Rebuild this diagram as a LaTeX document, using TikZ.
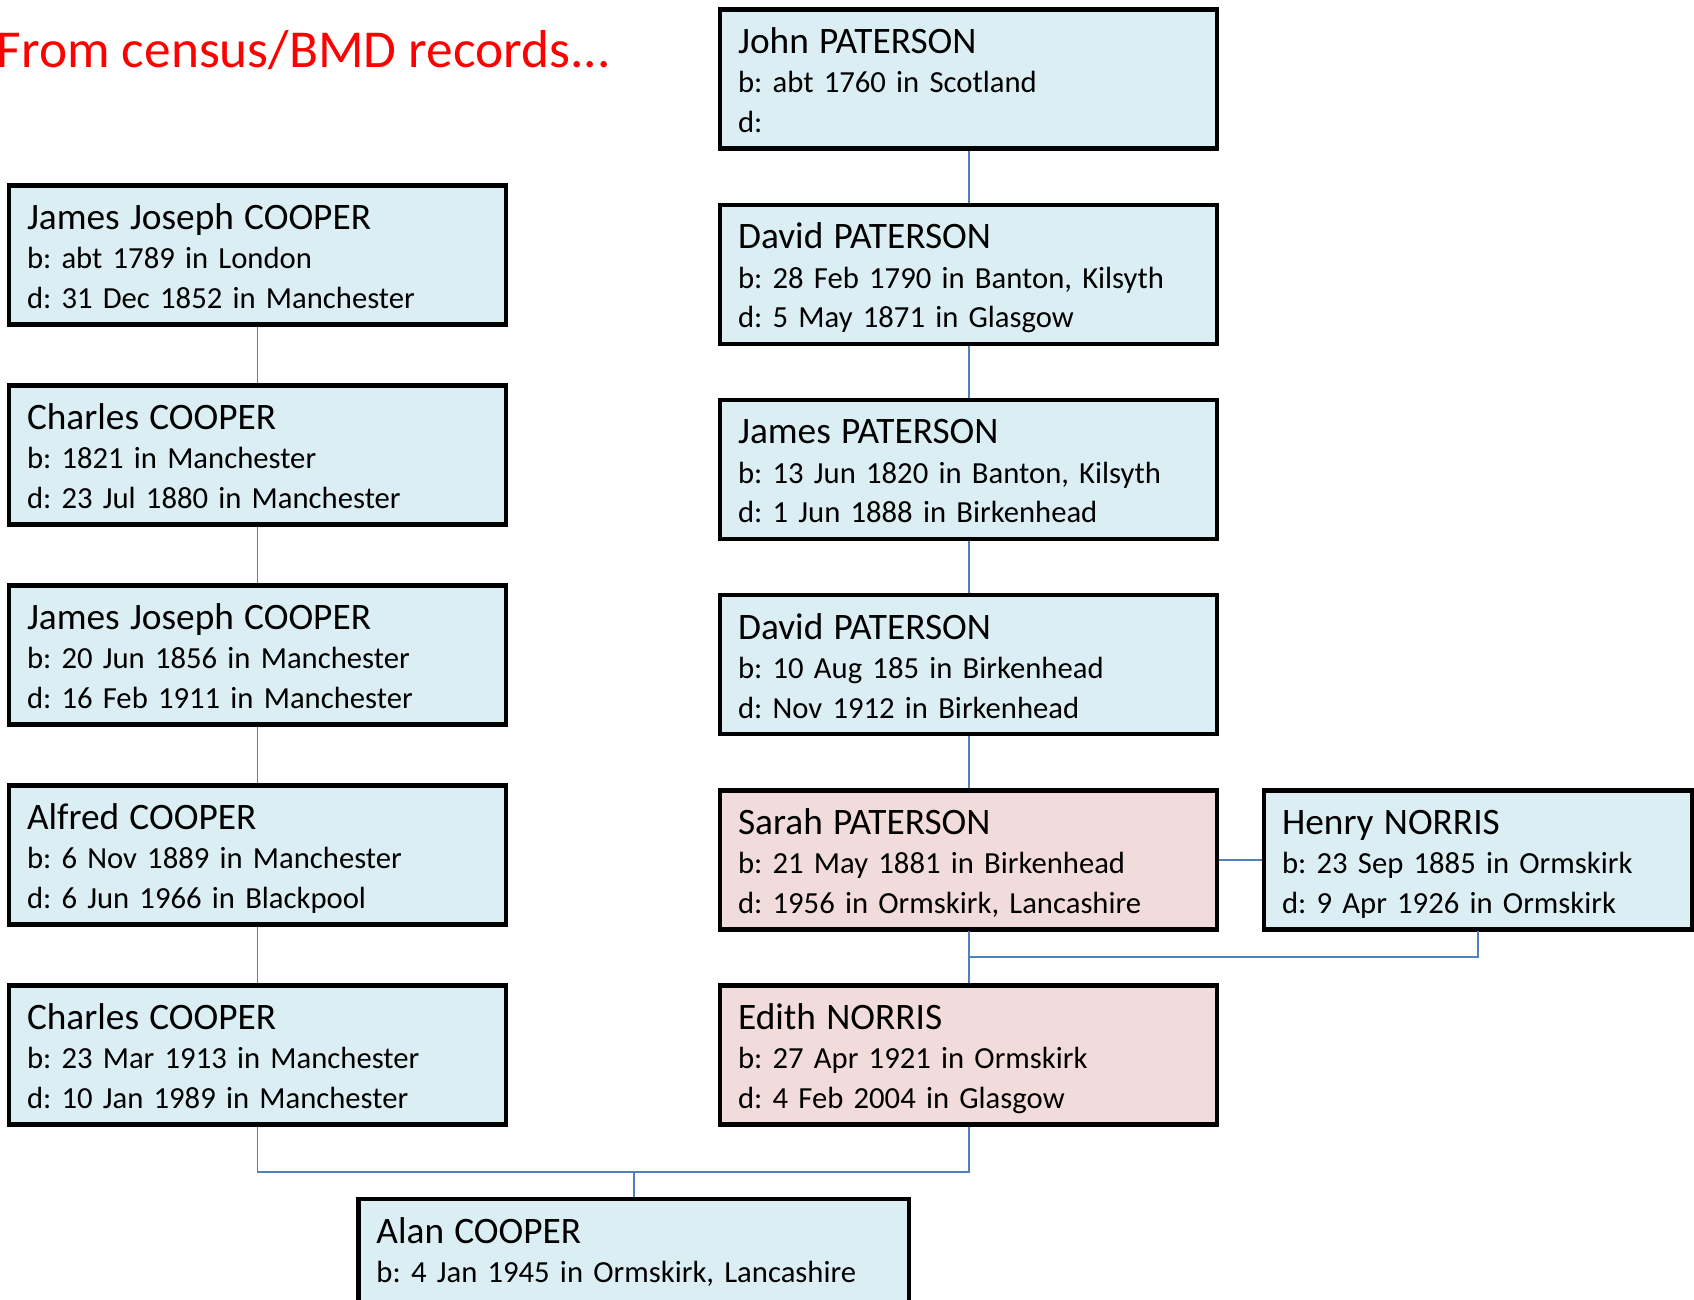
\documentclass[tikz,border=0pt]{standalone}
\usepackage{fontspec}
\setmainfont{Carlito}
\frenchspacing
\usetikzlibrary{positioning}
\definecolor{boxblue}{HTML}{DBEEF4}
\definecolor{boxpink}{HTML}{F2DCDB}
\definecolor{linkblue}{HTML}{4F81BD}

\begin{document}
\begin{tikzpicture}[x=0.75pt,y=-0.75pt]

\def\gapleft{45.75pt}
\def\gapright{42.15pt}
\def\who#1{{\fontsize{28}{29.6}\selectfont #1}}

\tikzset{
        every node/.style={inner sep=0pt, outer sep=0pt},
        person/.style={draw, line width=3.3pt, fill=boxblue, align=left,
                text width=345.75pt, inner xsep=13.5pt,
                text height=33pt, text depth=71.25pt,
                font=\fontsize{23}{29.6}\selectfont},
        spouse/.style={person, fill=boxpink},
        link/.style={draw=linkblue, line width=1.4pt, shorten <=1.6pt, shorten >=1.6pt},
        heading/.style={font=\fontsize{40}{48}\selectfont, red, anchor=base west}
}

\useasboundingbox (0,0) rectangle (1694,1299);

\node[heading] (title) at (-3,67) {From census/BMD records...};

\node[person] (C1) at (257.5,255) {\who{James Joseph COOPER}\\b: abt 1789 in London\\d: 31 Dec 1852 in Manchester};

\foreach \i/\j/\n/\b/\d in {2/1/{Charles COOPER}/{b: 1821 in Manchester}/{d: 23 Jul 1880 in Manchester},
                            3/2/{James Joseph COOPER}/{b: 20 Jun 1856 in Manchester}/{d: 16 Feb 1911 in Manchester},
                            4/3/{Alfred COOPER}/{b: 6 Nov 1889 in Manchester}/{d: 6 Jun 1966 in Blackpool},
                            5/4/{Charles COOPER}/{b: 23 Mar 1913 in Manchester}/{d: 10 Jan 1989 in Manchester}} {
     \node[person] (C\i) [below=\gapleft of C\j] {\who{\n}\\\b\\\d};
     \draw[link] (C\j) -- (C\i);
}

\node[person] (P1) at (968.6,79) {\who{John PATERSON}\\b: abt 1760 in Scotland\\d:};

\foreach \i/\j/\n/\b/\d in {2/1/{David PATERSON}/{b: 28 Feb 1790 in Banton, Kilsyth}/{d: 5 May 1871 in Glasgow},
                            3/2/{James PATERSON}/{b: 13 Jun 1820 in Banton, Kilsyth}/{d: 1 Jun 1888 in Birkenhead},
                            4/3/{David PATERSON}/{b: 10 Aug 185 in Birkenhead}/{d: Nov 1912 in Birkenhead}} {
     \node[person] (P\i) [below=\gapright of P\j] {\who{\n}\\\b\\\d};
     \draw[link] (P\j) -- (P\i);
}

\node[spouse] (S) [below=\gapright of P4] {\who{Sarah PATERSON}\\b: 21 May 1881 in Birkenhead\\d: 1956 in Ormskirk, Lancashire};
\draw[link] (P4) -- (S);

\node[person, text width=294pt] (H) [right=35.25pt of S] {\who{Henry NORRIS}\\b: 23 Sep 1885 in Ormskirk\\d: 9 Apr 1926 in Ormskirk};
\draw[link] (S) -- (H);

\node[spouse] (E) [below=\gapright of S] {\who{Edith NORRIS}\\b: 27 Apr 1921 in Ormskirk\\d: 4 Feb 2004 in Glasgow};

\node[person, anchor=north, text width=385.9pt] (A) at (633.75,1199) {\who{Alan COOPER}\\b: 4 Jan 1945 in Ormskirk, Lancashire};

\coordinate (wedline) at (0,957);
\coordinate (famline) at (0,1172);

\draw[link] (S.south) -- (S.south |- wedline) -- (H.south |- wedline) -- (H.south);
\draw[link, shorten <=0pt] (S.south |- wedline) -- (E.north);

\draw[link] (C5.south) -- (C5.south |- famline) -- (E.south |- famline) -- (E.south);
\draw[link, shorten <=0pt] (A.north |- famline) -- (A.north);

\end{tikzpicture}
\end{document}
